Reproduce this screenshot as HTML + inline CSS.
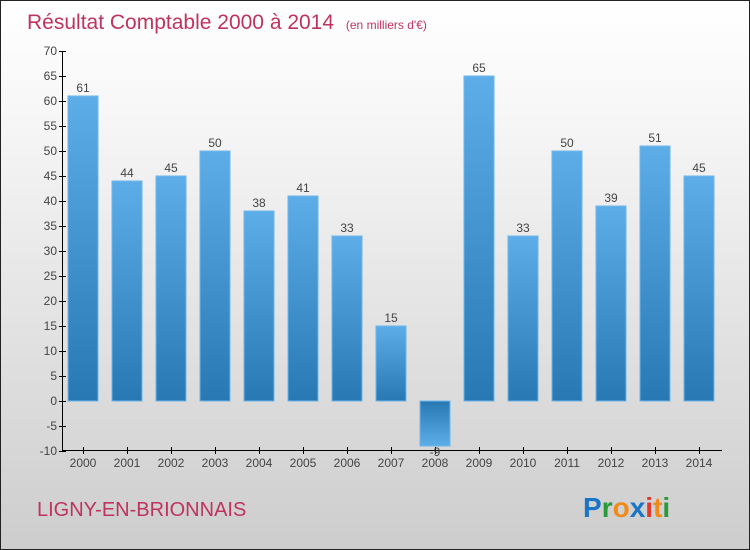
<!DOCTYPE html>
<html><head><meta charset="utf-8"><style>
body{margin:0;}
#wrap{position:relative;width:748px;height:548px;border:1px solid #222;background:linear-gradient(#fff,#f7f7f7 20%,#cdcdcd);font-family:"Liberation Sans",sans-serif;overflow:hidden}
</style></head><body>
<div id="wrap">
<svg id="chart" width="748" height="548">
<defs>
<linearGradient id="gpos" x1="0" y1="0" x2="0" y2="1"><stop offset="0" stop-color="#5dade8"/><stop offset="1" stop-color="#2878b4"/></linearGradient>
<linearGradient id="gneg" x1="0" y1="0" x2="0" y2="1"><stop offset="0" stop-color="#2878b4"/><stop offset="1" stop-color="#5dade8"/></linearGradient>
</defs>
<text x="26" y="28" font-size="21" fill="#c0335f">Résultat Comptable 2000 à 2014 <tspan font-size="12" dx="6">(en milliers d'€)</tspan></text>
<text x="36" y="515" font-size="20" fill="#c0335f">LIGNY-EN-BRIONNAIS</text>
<g font-size="28" font-weight="bold" font-family="'Liberation Sans',sans-serif">
<text x="582" y="516"><tspan fill="#1a75c8">P</tspan><tspan fill="#2a9a3a">r</tspan><tspan fill="#f08a1a">o</tspan><tspan fill="#1a75c8">x</tspan><tspan fill="#e03a2a">i</tspan><tspan fill="#f08a1a">t</tspan><tspan fill="#2a9a3a">i</tspan></text>
</g>
<g id="plot"></g>
</svg>
</div>
<script>
const years=["2000","2001","2002","2003","2004","2005","2006","2007","2008","2009","2010","2011","2012","2013","2014"];
const values=[61,44,45,50,38,41,33,15,-9,65,33,50,39,51,45];
const yTicks=[-10,-5,0,5,10,15,20,25,30,35,40,45,50,55,60,65,70];
const NS="http://www.w3.org/2000/svg";
const g=document.getElementById('plot');
function y(v){return 400-(v*5);}
function x(i){return 82+i*44;}
function mk(t,a){const e=document.createElementNS(NS,t);for(const k in a)e.setAttribute(k,a[k]);g.appendChild(e);return e;}
const ax=mk('line',{x1:61.5,y1:50,x2:61.5,y2:450,stroke:'#000'});


const bx=mk('line',{x1:61,y1:449.5,x2:721,y2:449.5,stroke:'#000'});


yTicks.forEach(v=>{
 const l=mk('line',{x1:58,x2:65,y1:y(v)+.5,y2:y(v)+.5,stroke:'#000'});
 
 
 const t=mk('text',{x:56,y:y(v)+4,'text-anchor':'end','font-size':12,fill:'#444'});
 t.textContent=v;
 
 
});
years.forEach((yr,i)=>{
 const v=values[i];
 const top=v>=0?y(v):y(0), h=Math.abs(y(v)-y(0));
 const r=mk('rect',{x:x(i)-15,y:top,width:30,height:h,fill:v>=0?'url(#gpos)':'url(#gneg)',stroke:'#6fb6ea','stroke-width':1});
 
 
 const tk=mk('line',{x1:x(i)+.5,x2:x(i)+.5,y1:446,y2:453,stroke:'#000'});
 
 
 const xl=mk('text',{x:x(i),y:466,'text-anchor':'middle','font-size':12,fill:'#444'});
 xl.textContent=yr;
 
 
 const vl=mk('text',{x:x(i),y:v>=0?y(v)-4:y(v)+10,'text-anchor':'middle','font-size':12,fill:'#444'});
 vl.textContent=v;
 
 
});
</script>
</body></html>
